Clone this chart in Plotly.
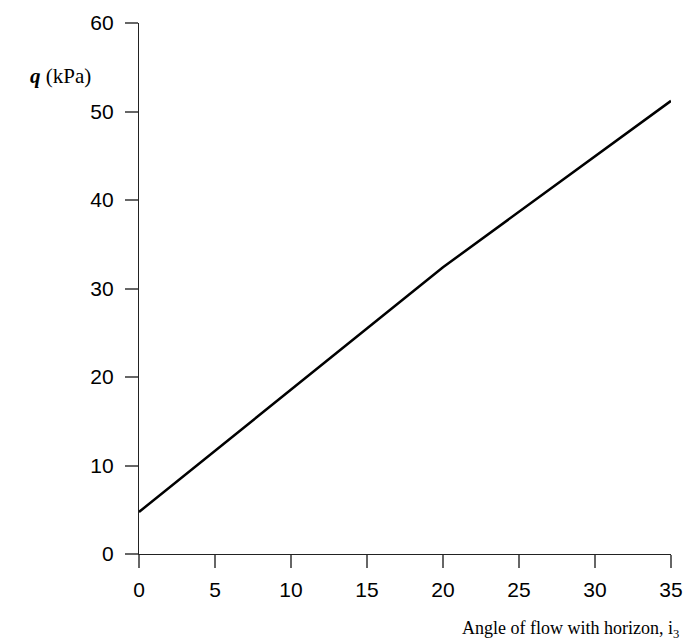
import plotly.graph_objects as go

# Bearing pressure q against the angle of flow with the horizon
angle_deg = [0, 20, 35]
q_kpa = [4.75, 32.4, 51.2]

x_ticks = [0, 5, 10, 15, 20, 25, 30, 35]
y_ticks = [0, 10, 20, 30, 40, 50, 60]

fig = go.Figure()
fig.add_trace(go.Scatter(
    x=angle_deg, y=q_kpa, mode="lines",
    line=dict(color="black", width=2.5),
    showlegend=False, hoverinfo="skip",
))

tick_font = dict(family="Liberation Sans, Arial, sans-serif", size=21, color="black")

fig.update_xaxes(
    range=[0, 35], tickvals=x_ticks, ticktext=[str(v) for v in x_ticks],
    showgrid=False, zeroline=False, showline=True, linecolor="#222", linewidth=1.2,
    ticks="outside", ticklen=13, tickcolor="#666", tickwidth=1.5,
    tickfont=tick_font, ticklabelstandoff=4, automargin=False,
)
fig.update_yaxes(
    range=[0, 60], tickvals=y_ticks, ticktext=[str(v) for v in y_ticks],
    showgrid=False, zeroline=False, showline=True, linecolor="#222", linewidth=1.2,
    ticks="outside", ticklen=13, tickcolor="#666", tickwidth=1.5,
    tickfont=tick_font, ticklabelstandoff=7, automargin=False,
)

serif = "Liberation Serif, Times New Roman, serif"
fig.add_annotation(
    text="<b><i>q</i></b> (kPa)", xref="paper", yref="paper",
    x=-0.148, y=0.9, xanchor="center", yanchor="middle", showarrow=False,
    font=dict(family=serif, size=21, color="black"),
)
fig.add_annotation(
    text="Angle of flow with horizon, i<sub>3</sub>", xref="paper", yref="paper",
    x=1.018, y=-0.142, xanchor="right", yanchor="middle", showarrow=False,
    font=dict(family=serif, size=18, color="black"),
)

fig.update_layout(
    width=685, height=643,
    margin=dict(l=139, r=14, t=23, b=89),
    paper_bgcolor="white", plot_bgcolor="white",
)

fig.write_html("out.html")
